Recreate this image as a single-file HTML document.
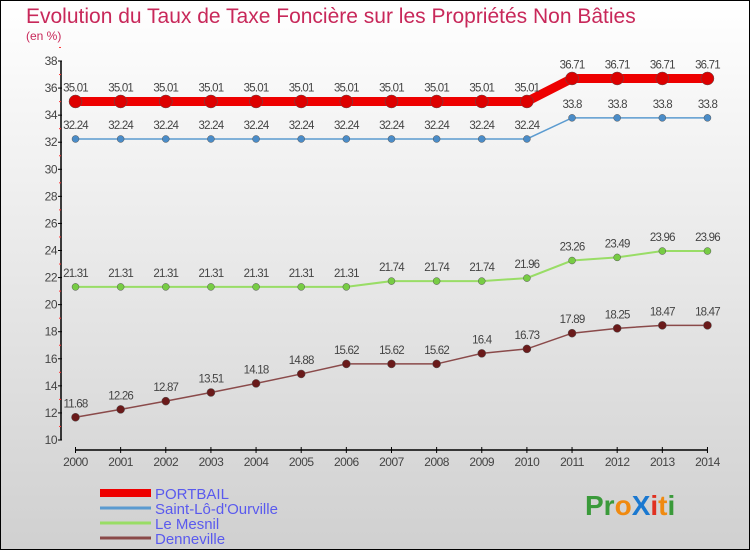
<!DOCTYPE html>
<html><head><meta charset="utf-8"><style>
html,body{margin:0;padding:0}
body{width:750px;height:550px;overflow:hidden;font-family:"Liberation Sans",sans-serif}
</style></head><body>
<svg width="750" height="550" xmlns="http://www.w3.org/2000/svg">
<defs><linearGradient id="bg" x1="0" y1="0" x2="0" y2="1"><stop offset="0" stop-color="#ffffff"/><stop offset="1" stop-color="#d0d0d0"/></linearGradient></defs>
<rect x="0.5" y="0.5" width="749" height="549" fill="url(#bg)" stroke="#000"/>
<text x="26" y="23" font-size="21" fill="#c8285a">Evolution du Taux de Taxe Foncière sur les Propriétés Non Bâties</text>
<text x="26" y="40" font-size="12" fill="#c8285a">(en %)</text>
<g id="axes"></g>
<g id="series"></g>
<g id="legend"></g>
<text x="585" y="515" font-size="28" font-weight="bold"><tspan fill="#3a9a3a">Pr</tspan><tspan fill="#f08a10">o</tspan><tspan fill="#1a78d0">X</tspan><tspan fill="#e03020">i</tspan><tspan fill="#f08a10">t</tspan><tspan fill="#3a9a3a">i</tspan></text>
</svg>
<script>
const years=[2000,2001,2002,2003,2004,2005,2006,2007,2008,2009,2010,2011,2012,2013,2014];
const yTicks=[10,12,14,16,18,20,22,24,26,28,30,32,34,36,38];
const names=["PORTBAIL","Saint-Lô-d'Ourville","Le Mesnil","Denneville"];
const portbail=[35.01,35.01,35.01,35.01,35.01,35.01,35.01,35.01,35.01,35.01,35.01,36.71,36.71,36.71,36.71];
const saintlo=[32.24,32.24,32.24,32.24,32.24,32.24,32.24,32.24,32.24,32.24,32.24,33.8,33.8,33.8,33.8];
const mesnil=[21.31,21.31,21.31,21.31,21.31,21.31,21.31,21.74,21.74,21.74,21.96,23.26,23.49,23.96,23.96];
const denneville=[11.68,12.26,12.87,13.51,14.18,14.88,15.62,15.62,15.62,16.4,16.73,17.89,18.25,18.47,18.47];
const NS="http://www.w3.org/2000/svg";
const X=i=>75.5+i*45.14;
const Y=v=>440-(v-10)*(379/28);
function mk(tag,attrs,parent){const e=document.createElementNS(NS,tag);for(const k in attrs)e.setAttribute(k,attrs[k]);parent.appendChild(e);return e;}
const ax=document.getElementById('axes');
let yl=mk('line',{x1:61,y1:Y(38),x2:61,y2:Y(10),stroke:'#000','stroke-width':1.5},ax);


yTicks.forEach(t=>{
 mk('line',{x1:58,y1:Y(t),x2:62,y2:Y(t),stroke:'#000'},ax);
 mk('line',{x1:59,y1:Y(t+1),x2:61,y2:Y(t+1),stroke:'#f33'},ax);
 const tx=mk('text',{x:57,y:Y(t)+4,'font-size':12,fill:'#444','text-anchor':'end','letter-spacing':'-0.5'},ax);
 tx.textContent=t;
 
 
});
let xl=mk('line',{x1:X(0),y1:450,x2:X(14),y2:450,stroke:'#000','stroke-width':1.5},ax);


years.forEach((y,i)=>{
 mk('line',{x1:X(i),y1:447,x2:X(i),y2:453,stroke:'#000'},ax);
 const tx=mk('text',{x:X(i),y:466,'font-size':12,fill:'#444','text-anchor':'middle','letter-spacing':'-0.5'},ax);
 tx.textContent=y;
 
 
});
const sg=document.getElementById('series');
const cfg=[
 {d:portbail,c:'#ee0000',w:9,r:6.5,dot:'#dd0000',slug:'portbail'},
 {d:saintlo,c:'#5b9bd0',w:1.5,r:3.5,dot:'#4a8cc8',slug:'saint-lo'},
 {d:mesnil,c:'#99dd66',w:2,r:3.5,dot:'#77cc44',slug:'le-mesnil'},
 {d:denneville,c:'#8a4a4a',w:1.5,r:4,dot:'#6a1a1a',slug:'denneville'}];
cfg.forEach(s=>{
 const p=mk('polyline',{points:s.d.map((v,i)=>X(i)+','+Y(v)).join(' '),fill:'none',stroke:s.c,'stroke-width':s.w},sg);
 
 
 s.d.forEach((v,i)=>{
  const c=mk('circle',{cx:X(i),cy:Y(v),r:s.r,fill:s.dot,stroke:'#555','stroke-width':0.5},sg);
  
  
  const t=mk('text',{x:X(i),y:Y(v)-10,'font-size':11.5,fill:'#444','text-anchor':'middle','letter-spacing':'-0.8'},sg);
  t.textContent=v;
  
  
 });
});
const lg=document.getElementById('legend');
const lw=[8,3,3,3];
names.forEach((n,i)=>{
 const y=493+i*15;
 const l=mk('line',{x1:100,y1:y,x2:151,y2:y,stroke:cfg[i].c,'stroke-width':lw[i]},lg);
 
 
 const t=mk('text',{x:155,y:y+6,'font-size':15,fill:'#5a5aee'},lg);
 t.textContent=n;
 
 
});
</script>
</body></html>
